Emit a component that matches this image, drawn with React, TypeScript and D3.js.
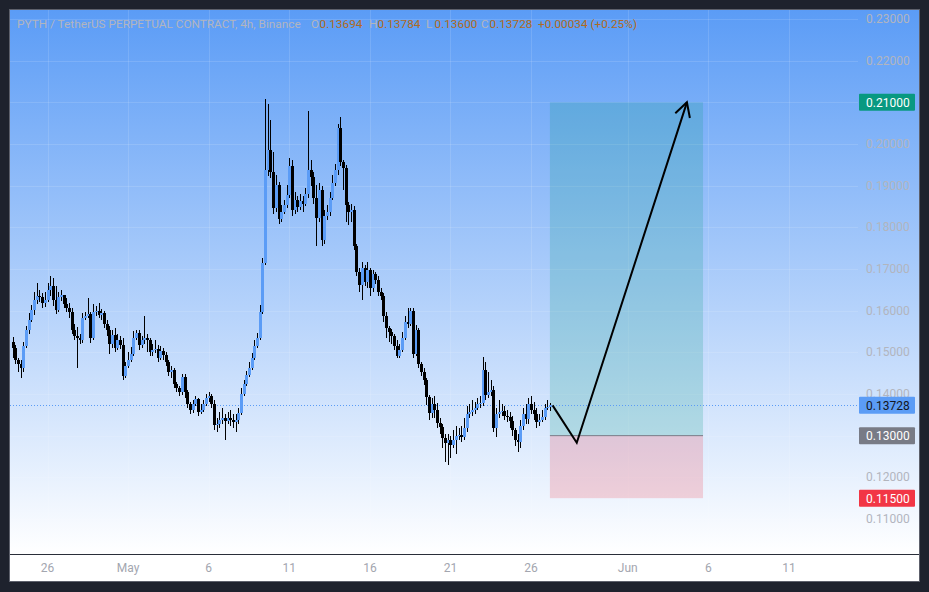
import * as d3 from "d3";

// ---- data (4h bars, PYTH/USDT perp) ----
const firstOpen = 0.1525;
const barStart = Date.UTC(2024, 3, 23, 20);
const barMs = 4 * 3600 * 1000;

const closes = [
  0.1510, 0.1482, 0.1472, 0.1462, 0.1515, 0.1554, 0.1578, 0.1602, 0.1626, 0.1635,
  0.1633, 0.1618, 0.1626, 0.1650, 0.1659, 0.1626, 0.1602, 0.1633, 0.1638, 0.1616,
  0.1606, 0.1597, 0.1554, 0.1539, 0.1534, 0.1530, 0.1582, 0.1587, 0.1592, 0.1534,
  0.1597, 0.1599, 0.1590, 0.1594, 0.1568, 0.1554, 0.1520, 0.1542, 0.1510, 0.1530,
  0.1518, 0.1443, 0.1467, 0.1482, 0.1496, 0.1534, 0.1546, 0.1518, 0.1530, 0.1534,
  0.1530, 0.1501, 0.1506, 0.1508, 0.1486, 0.1503, 0.1494, 0.1477, 0.1453, 0.1458,
  0.1424, 0.1414, 0.1405, 0.1441, 0.1405, 0.1376, 0.1362, 0.1376, 0.1388, 0.1357,
  0.1362, 0.1376, 0.1390, 0.1395, 0.1376, 0.1326, 0.1328, 0.1338, 0.1342, 0.1335,
  0.1342, 0.1338, 0.1333, 0.1338, 0.1354, 0.1400, 0.1424, 0.1446, 0.1462, 0.1486,
  0.1515, 0.1534, 0.1597, 0.1714, 0.1938, 0.1986, 0.1933, 0.1846, 0.1902, 0.1820,
  0.1837, 0.1854, 0.1878, 0.1947, 0.1842, 0.1866, 0.1849, 0.1863, 0.1856, 0.1880,
  0.1938, 0.1921, 0.1870, 0.1822, 0.1890, 0.1770, 0.1827, 0.1837, 0.1870, 0.1906,
  0.1938, 0.2038, 0.1957, 0.1942, 0.1854, 0.1837, 0.1842, 0.1755, 0.1693, 0.1662,
  0.1702, 0.1669, 0.1698, 0.1654, 0.1688, 0.1674, 0.1645, 0.1635, 0.1587, 0.1558,
  0.1549, 0.1539, 0.1515, 0.1491, 0.1506, 0.1534, 0.1573, 0.1568, 0.1599, 0.1496,
  0.1554, 0.1472, 0.1453, 0.1434, 0.1393, 0.1354, 0.1376, 0.1362, 0.1330, 0.1321,
  0.1294, 0.1282, 0.1290, 0.1278, 0.1290, 0.1299, 0.1302, 0.1297, 0.1318, 0.1352,
  0.1357, 0.1362, 0.1366, 0.1376, 0.1378, 0.1458, 0.1398, 0.1405, 0.1410, 0.1318,
  0.1352, 0.1357, 0.1359, 0.1347, 0.1345, 0.1335, 0.1314, 0.1290, 0.1285, 0.1323,
  0.1352, 0.1340, 0.1376, 0.1362, 0.1352, 0.1333, 0.1338, 0.1345, 0.1366, 0.13694,
  0.13728,
];

const highs = [
  0.1537, 0.1518, 0.1486, 0.1482, 0.1525, 0.1563, 0.1594, 0.1614, 0.1645, 0.1666,
  0.1650, 0.1642, 0.1645, 0.1666, 0.1683, 0.1678, 0.1659, 0.1645, 0.1650, 0.1635,
  0.1630, 0.1618, 0.1606, 0.1568, 0.1561, 0.1544, 0.1594, 0.1597, 0.1630, 0.1597,
  0.1616, 0.1611, 0.1618, 0.1604, 0.1599, 0.1578, 0.1563, 0.1554, 0.1558, 0.1544,
  0.1539, 0.1534, 0.1477, 0.1501, 0.1513, 0.1551, 0.1554, 0.1554, 0.1539, 0.1587,
  0.1544, 0.1534, 0.1520, 0.1530, 0.1518, 0.1515, 0.1510, 0.1501, 0.1482, 0.1467,
  0.1462, 0.1429, 0.1419, 0.1448, 0.1448, 0.1410, 0.1381, 0.1386, 0.1395, 0.1390,
  0.1376, 0.1386, 0.1400, 0.1405, 0.1400, 0.1386, 0.1342, 0.1357, 0.1366, 0.1352,
  0.1357, 0.1362, 0.1352, 0.1352, 0.1366, 0.1414, 0.1434, 0.1455, 0.1477, 0.1498,
  0.1530, 0.1546, 0.1614, 0.1726, 0.2108, 0.2096, 0.2058, 0.1981, 0.1926, 0.1909,
  0.1854, 0.1866, 0.1902, 0.1966, 0.1962, 0.1885, 0.1875, 0.1880, 0.1875, 0.1894,
  0.2079, 0.1962, 0.1933, 0.1902, 0.1906, 0.1899, 0.1842, 0.1854, 0.1885, 0.1926,
  0.1952, 0.2048, 0.2065, 0.1962, 0.1950, 0.1861, 0.1856, 0.1851, 0.1760, 0.1702,
  0.1717, 0.1710, 0.1717, 0.1702, 0.1698, 0.1693, 0.1683, 0.1654, 0.1642, 0.1597,
  0.1563, 0.1556, 0.1544, 0.1530, 0.1520, 0.1549, 0.1587, 0.1606, 0.1606, 0.1606,
  0.1566, 0.1558, 0.1477, 0.1462, 0.1438, 0.1398, 0.1390, 0.1395, 0.1378, 0.1342,
  0.1328, 0.1304, 0.1304, 0.1299, 0.1314, 0.1323, 0.1318, 0.1323, 0.1342, 0.1371,
  0.1376, 0.1386, 0.1381, 0.1390, 0.1395, 0.1489, 0.1477, 0.1453, 0.1434, 0.1419,
  0.1366, 0.1386, 0.1376, 0.1371, 0.1362, 0.1357, 0.1347, 0.1318, 0.1304, 0.1338,
  0.1366, 0.1376, 0.1390, 0.1395, 0.1381, 0.1366, 0.1352, 0.1362, 0.1376, 0.1386,
  0.13784,
];

const lows = [
  0.1486, 0.1472, 0.1453, 0.1438, 0.1453, 0.1510, 0.1544, 0.1573, 0.1590, 0.1616,
  0.1621, 0.1606, 0.1609, 0.1621, 0.1635, 0.1611, 0.1592, 0.1597, 0.1623, 0.1606,
  0.1597, 0.1582, 0.1544, 0.1530, 0.1462, 0.1520, 0.1522, 0.1578, 0.1582, 0.1522,
  0.1530, 0.1587, 0.1582, 0.1578, 0.1558, 0.1539, 0.1496, 0.1510, 0.1501, 0.1506,
  0.1508, 0.1434, 0.1438, 0.1462, 0.1477, 0.1491, 0.1530, 0.1506, 0.1510, 0.1520,
  0.1501, 0.1491, 0.1491, 0.1498, 0.1477, 0.1482, 0.1482, 0.1467, 0.1443, 0.1438,
  0.1414, 0.1405, 0.1395, 0.1398, 0.1390, 0.1366, 0.1352, 0.1354, 0.1371, 0.1347,
  0.1352, 0.1357, 0.1371, 0.1381, 0.1366, 0.1314, 0.1309, 0.1318, 0.1328, 0.1290,
  0.1328, 0.1323, 0.1318, 0.1309, 0.1328, 0.1350, 0.1395, 0.1419, 0.1441, 0.1458,
  0.1482, 0.1510, 0.1530, 0.1592, 0.1710, 0.1923, 0.1918, 0.1832, 0.1837, 0.1808,
  0.1813, 0.1832, 0.1846, 0.1870, 0.1827, 0.1832, 0.1837, 0.1842, 0.1837, 0.1851,
  0.1870, 0.1899, 0.1856, 0.1755, 0.1813, 0.1755, 0.1760, 0.1818, 0.1827, 0.1866,
  0.1899, 0.1926, 0.1947, 0.1890, 0.1813, 0.1806, 0.1813, 0.1746, 0.1683, 0.1645,
  0.1626, 0.1659, 0.1654, 0.1635, 0.1645, 0.1664, 0.1635, 0.1626, 0.1573, 0.1534,
  0.1525, 0.1520, 0.1506, 0.1486, 0.1486, 0.1501, 0.1530, 0.1558, 0.1563, 0.1486,
  0.1491, 0.1462, 0.1443, 0.1422, 0.1374, 0.1338, 0.1342, 0.1342, 0.1318, 0.1304,
  0.1270, 0.1237, 0.1230, 0.1246, 0.1270, 0.1256, 0.1290, 0.1285, 0.1290, 0.1309,
  0.1342, 0.1347, 0.1352, 0.1362, 0.1366, 0.1371, 0.1386, 0.1390, 0.1395, 0.1309,
  0.1297, 0.1342, 0.1347, 0.1338, 0.1333, 0.1318, 0.1299, 0.1275, 0.1261, 0.1270,
  0.1314, 0.1328, 0.1328, 0.1352, 0.1338, 0.1318, 0.1323, 0.1333, 0.1338, 0.1362,
  0.13600,
];

const priceTicks = [0.11, 0.12, 0.13, 0.14, 0.15, 0.16, 0.17, 0.18, 0.19, 0.2, 0.21, 0.22, 0.23];

const xTickDates = [
  Date.UTC(2024, 3, 26), Date.UTC(2024, 4, 1), Date.UTC(2024, 4, 6), Date.UTC(2024, 4, 11),
  Date.UTC(2024, 4, 16), Date.UTC(2024, 4, 21), Date.UTC(2024, 4, 26), Date.UTC(2024, 5, 1),
  Date.UTC(2024, 5, 6), Date.UTC(2024, 5, 11),
];
const xTickLabels = ["26", "May", "6", "11", "16", "21", "26", "Jun", "6", "11"];

const lastPrice = 0.13728;
const targetPrice = 0.21;
const entryPrice = 0.13;
const stopPrice = 0.115;
const boxStart = Date.UTC(2024, 4, 27, 4);
const boxEnd = Date.UTC(2024, 5, 5, 16);

// projected path drawn on the chart
const pathTimes = [Date.UTC(2024, 4, 27, 8), Date.UTC(2024, 4, 28, 20), Date.UTC(2024, 5, 4, 16)];
const pathPrices = [0.13728, 0.1283, 0.21];

const header = "PYTH / TetherUS PERPETUAL CONTRACT, 4h, Binance";
const ohlcLabels = ["O", "H", "L", "C"];
const ohlcValues = ["0.13694", "0.13784", "0.13600", "0.13728"];
const changeText = "+0.00034 (+0.25%)";

// ---- layout ----
const W = 929;
const H = 592;
const plotL = 10;
const plotR = 858;
const plotT = 10;
const plotB = 554;
const frameR = 919;
const frameB = 581;

const UP = "#5b9cf6";
const DOWN = "#000000";
const TXT = "#b2b5be";
const font = "Roboto, 'Liberation Sans', sans-serif";

export default function App() {
  const x = d3
    .scaleUtc()
    .domain([Date.UTC(2024, 3, 26), Date.UTC(2024, 5, 11)])
    .range([47.5, 789]);
  const y = d3.scaleLinear().domain([0.11, 0.23]).range([519, 19]);

  const bars = closes.map((c, i) => {
    const o = i === 0 ? firstOpen : closes[i - 1];
    return {
      t: barStart + i * barMs,
      o,
      c,
      h: Math.max(highs[i], o, c),
      l: Math.min(lows[i], o, c),
    };
  });
  const bodyW = 2;

  const line = d3
    .line<number>()
    .x((_, i) => x(pathTimes[i]))
    .y((p) => y(p));
  const pathD = line(pathPrices) as string;

  // arrow head at the end of the path
  const n = pathPrices.length;
  const tx = x(pathTimes[n - 1]);
  const ty = y(pathPrices[n - 1]);
  const ang = Math.atan2(ty - y(pathPrices[n - 2]), tx - x(pathTimes[n - 2]));
  const headLen = 16;
  const head = [ang + Math.PI - 0.5, ang + Math.PI + 0.5].map((a) => [
    tx + headLen * Math.cos(a),
    ty + headLen * Math.sin(a),
  ]);

  const labelBoxes = [
    { p: targetPrice, bg: "#089981", fg: "#ffffff" },
    { p: lastPrice, bg: UP, fg: "#131722" },
    { p: entryPrice, bg: "#787b86", fg: "#ffffff" },
    { p: stopPrice, bg: "#f23645", fg: "#ffffff" },
  ];
  // tick labels fully hidden under a price label are not drawn
  const visibleTicks = priceTicks.filter((p) => p !== targetPrice && p !== entryPrice);

  const ohlcX = [311, 369, 426, 481];

  return (
    <div style={{ position: "absolute", left: 0, top: 0 }}>
      <svg width={W} height={H} style={{ display: "block", fontFamily: font }}>
        <defs>
          <linearGradient id="bg" x1="0" y1="0" x2="0" y2="1">
            <stop offset="0" stopColor="#5b9cf6" />
            <stop offset="1" stopColor="#ffffff" />
          </linearGradient>
          <clipPath id="plot">
            <rect x={plotL} y={plotT} width={plotR - plotL} height={plotB - plotT} />
          </clipPath>
        </defs>
        <rect width={W} height={H} fill="#1e222d" />
        <rect x={plotL} y={plotT} width={frameR - plotL} height={plotB - plotT} fill="url(#bg)" />
        <rect x={plotL} y={plotB} width={frameR - plotL} height={frameB - plotB} fill="#ffffff" />
        <rect
          x={plotL - 0.5}
          y={plotT - 0.5}
          width={frameR - plotL + 1}
          height={frameB - plotT + 1}
          fill="none"
          stroke="#5d606b"
        />

        {/* grid */}
        <g stroke="#ffffff" strokeOpacity={0.12}>
          {priceTicks.map((p) => (
            <line key={p} x1={plotL} x2={plotR} y1={Math.round(y(p)) + 0.5} y2={Math.round(y(p)) + 0.5} />
          ))}
          {xTickDates.map((d) => (
            <line key={d} x1={Math.round(x(d)) + 0.5} x2={Math.round(x(d)) + 0.5} y1={plotT} y2={plotB} />
          ))}
        </g>

        {/* header */}
        <g fontSize={11.8} dominantBaseline="central">
          <text x={17} y={24} fill={TXT}>
            {header}
          </text>
          {ohlcLabels.map((l, i) => (
            <g key={l}>
              <text x={ohlcX[i]} y={24} fill={TXT}>
                {l}
              </text>
              <text x={ohlcX[i] + 8.5} y={24} fill="#b06a22">
                {ohlcValues[i]}
              </text>
            </g>
          ))}
          <text x={538} y={24} fill="#b06a22">
            {changeText}
          </text>
        </g>

        <g clipPath="url(#plot)">
          {/* position box */}
          <rect
            x={x(boxStart)}
            y={y(targetPrice)}
            width={x(boxEnd) - x(boxStart)}
            height={y(entryPrice) - y(targetPrice)}
            fill="#089981"
            fillOpacity={0.2}
          />
          <rect
            x={x(boxStart)}
            y={y(entryPrice)}
            width={x(boxEnd) - x(boxStart)}
            height={y(stopPrice) - y(entryPrice)}
            fill="#f23645"
            fillOpacity={0.2}
          />
          <line
            x1={x(boxStart)}
            x2={x(boxEnd)}
            y1={y(entryPrice)}
            y2={y(entryPrice)}
            stroke="#787b86"
            strokeWidth={1}
          />

          {/* last price line */}
          <line
            x1={plotL}
            x2={plotR}
            y1={Math.round(y(lastPrice)) + 0.5}
            y2={Math.round(y(lastPrice)) + 0.5}
            stroke={UP}
            strokeDasharray="1 2"
          />

          {/* candles */}
          <g shapeRendering="crispEdges">
            {bars.map((b) => {
              const cx = Math.round(x(b.t));
              const top = Math.round(y(Math.max(b.o, b.c)));
              const bot = Math.round(y(Math.min(b.o, b.c)));
              return (
                <g key={b.t}>
                  <rect x={cx} y={Math.round(y(b.h))} width={1} height={Math.round(y(b.l)) - Math.round(y(b.h))} fill="#000" />
                  <rect
                    x={cx - bodyW / 2}
                    y={top}
                    width={bodyW + 1}
                    height={Math.max(1, bot - top)}
                    fill={b.c >= b.o ? UP : DOWN}
                  />
                </g>
              );
            })}
          </g>

          {/* projected path */}
          <path d={pathD} fill="none" stroke="#000" strokeWidth={2} strokeLinejoin="miter" />
          <path
            d={`M${head[0][0]},${head[0][1]}L${tx},${ty}L${head[1][0]},${head[1][1]}`}
            fill="none"
            stroke="#000"
            strokeWidth={2}
          />
        </g>

        {/* price axis */}
        <g fontSize={12} dominantBaseline="central">
          {visibleTicks.map((p) => (
            <text key={p} x={866} y={y(p)} fill={TXT}>
              {p.toFixed(5)}
            </text>
          ))}
          {labelBoxes.map((lb) => (
            <g key={lb.p}>
              <rect x={859} y={y(lb.p) - 8.5} width={56} height={17} fill={lb.bg} rx={1} />
              <text x={866} y={y(lb.p) + 0.5} fill={lb.fg}>
                {lb.p.toFixed(5)}
              </text>
            </g>
          ))}
        </g>

        {/* time axis */}
        <line x1={plotL} x2={frameR} y1={plotB + 0.5} y2={plotB + 0.5} stroke="#2a2e39" />
        <g fontSize={12} textAnchor="middle" dominantBaseline="central">
          {xTickDates.map((d, i) => (
            <text key={d} x={x(d)} y={568} fill="#a3a6af">
              {xTickLabels[i]}
            </text>
          ))}
        </g>
      </svg>
    </div>
  );
}
